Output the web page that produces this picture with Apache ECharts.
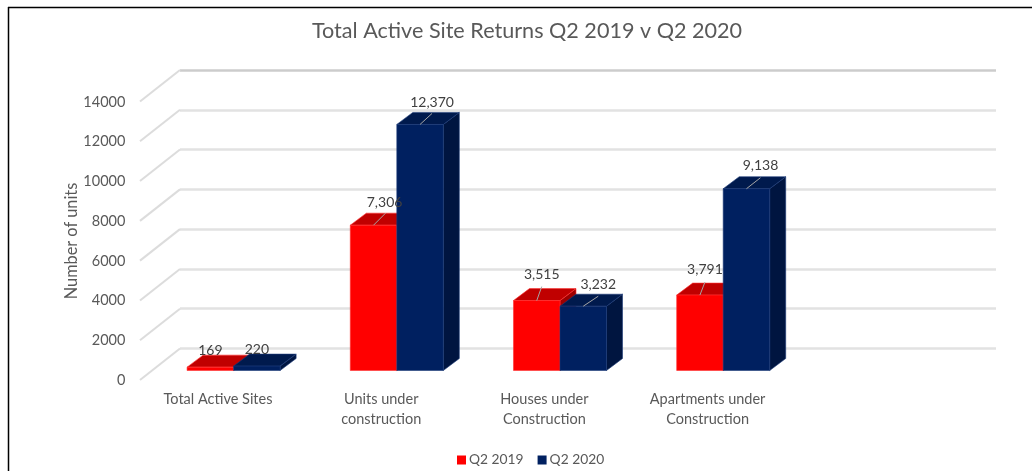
<!DOCTYPE html>
<html>
<head>
<meta charset="utf-8">
<title>Total Active Site Returns</title>
<script src="https://cdn.jsdelivr.net/npm/echarts@6/dist/echarts.min.js"></script>
<style>
    html, body { margin: 0; padding: 0; background: #fff; }
    #container { width: 1032px; height: 471px; }
</style>
</head>
<body>
<div id="container"></div>
<script>
    var categories = ['Total Active Sites', 'Units under\nconstruction', 'Houses under\nConstruction', 'Apartments under\nConstruction', ''];
    var q2_2019 = [169, 7306, 3515, 3791];
    var q2_2020 = [220, 12370, 3232, 9138];
    var wallTicks = [0, 2000, 4000, 6000, 8000, 10000, 12000, 14000];

    // where each data label sits relative to the top centre of its bar: [dx, dy]
    var labelShift2019 = [[0, -17], [11, -23], [5, -26], [5, -26]];
    var labelShift2020 = [[0, -17], [12, -22], [15, -22], [14, -23]];
    var leaderFrom2019 = [null, [12, -12], [5, -14], [5, -13]];
    var leaderFrom2020 = [null, [12, -11], [15, -10], [14, -11]];

    var font = 'Lato, "Open Sans", sans-serif';
    var barFrontX = -28, barFrontY = 22;     // bar front plane relative to back wall
    var depthX = 16, depthY = -12;           // bar depth
    var wallX = -40, wallY = 31.5;           // floor/wall depth
    var barShare = 0.285;

    function fmt(v) {
        return String(v).replace(/\B(?=(\d{3})+$)/g, ',');
    }

    // left edge, right edge and top of the bar front
    function barBox(side, api) {
        var p = api.coord([api.value(0), api.value(1)]);
        var zero = api.coord([api.value(0), 0]);
        var w = api.size([1, 0])[0] * barShare;
        var x0 = p[0] + barFrontX + (side < 0 ? -w : 0);
        return { x0: x0, x1: x0 + w, w: w, yt: p[1] + barFrontY, yb: zero[1] + barFrontY };
    }

    function barRenderer(side, front, top, right, edge) {
        return function (params, api) {
            var b = barBox(side, api);
            return {
                type: 'group',
                children: [
                    { type: 'polygon', shape: { points: [[b.x1, b.yt], [b.x1 + depthX, b.yt + depthY], [b.x1 + depthX, b.yb + depthY], [b.x1, b.yb]] }, style: { fill: right, stroke: edge, lineWidth: 0.6 } },
                    { type: 'polygon', shape: { points: [[b.x0, b.yt], [b.x0 + depthX, b.yt + depthY], [b.x1 + depthX, b.yt + depthY], [b.x1, b.yt]] }, style: { fill: top, stroke: edge, lineWidth: 0.6 } },
                    { type: 'rect', shape: { x: b.x0, y: b.yt, width: b.w, height: b.yb - b.yt }, style: { fill: front, stroke: edge, lineWidth: 0.6 } }
                ]
            };
        };
    }

    function labelRenderer(side, shifts, leaders) {
        return function (params, api) {
            var b = barBox(side, api);
            var cx = (b.x0 + b.x1) / 2;
            var s = shifts[params.dataIndex], l = leaders[params.dataIndex];
            var children = [];
            if (l) {
                children.push({ type: 'line', shape: { x1: cx, y1: b.yt, x2: cx + l[0], y2: b.yt + l[1] }, style: { stroke: '#a6a6a6', lineWidth: 1 } });
            }
            children.push({
                type: 'text', x: cx + s[0], y: b.yt + s[1],
                style: { text: fmt(api.value(1)), fill: '#404040', font: '14px ' + font, align: 'center', verticalAlign: 'middle' }
            });
            return { type: 'group', children: children };
        };
    }

    function wallRenderer(params, api) {
        var p = api.coord([0, api.value(0)]);
        var x = 180;
        return {
            type: 'line',
            shape: { x1: x, y1: p[1], x2: x + wallX, y2: p[1] + wallY },
            style: { stroke: '#dcdcdc', lineWidth: 2 }
        };
    }

    function pairs(values) {
        return values.map(function (v, i) { return [i, v]; });
    }

    var myChart = echarts.init(document.getElementById('container'));
    var option = {
        animation: false,
        backgroundColor: '#fff',
        title: {
            text: 'Total Active Site Returns Q2 2019 v Q2 2020',
            left: 522, top: 15, textAlign: 'center',
            textStyle: { color: '#595959', fontFamily: font, fontWeight: 'normal', fontSize: 21.6 }
        },
        legend: {
            data: ['Q2 2019', 'Q2 2020'],
            left: 452, top: 448,
            itemWidth: 9, itemHeight: 9, itemGap: 14,
            icon: 'rect',
            textStyle: { color: '#595959', fontFamily: font, fontSize: 13.8, padding: [0, 0, 0, -2] }
        },
        // back wall and the front plane used for the axis labels
        grid: [
            { left: 180, width: 816, top: 70, height: 278.5 },
            { left: 136.4, width: 816, top: 102, height: 278 }
        ],
        xAxis: [
            { type: 'category', gridIndex: 0, data: categories, show: false },
            {
                type: 'category', gridIndex: 1, data: categories,
                axisLine: { show: false }, axisTick: { show: false },
                axisLabel: { color: '#595959', fontFamily: font, fontSize: 14.5, margin: 9, lineHeight: 20.5, interval: 0 }
            }
        ],
        yAxis: [
            {
                type: 'value', gridIndex: 0, min: 0, max: 14000, interval: 2000,
                axisLine: { show: false }, axisTick: { show: false }, axisLabel: { show: false },
                splitLine: {
                    lineStyle: {
                        color: ['#e2e2e2', '#e2e2e2', '#e2e2e2', '#e2e2e2', '#e2e2e2', '#e2e2e2', '#e2e2e2', '#cccccc'],
                        width: 2.5
                    }
                }
            },
            {
                type: 'value', gridIndex: 1, min: 0, max: 14000, interval: 2000,
                name: 'Number of units', nameLocation: 'middle', nameGap: 57, nameMoveOverlap: false,
                nameTextStyle: { color: '#595959', fontFamily: font, fontSize: 16.3 },
                axisLine: { show: false }, axisTick: { show: false },
                axisLabel: {
                    color: '#595959', fontFamily: font, fontSize: 14.5, margin: 11,
                    formatter: function (v) { return String(v); }
                },
                splitLine: { show: false }
            }
        ],
        graphic: [
            { type: 'line', shape: { x1: 8, y1: 7.5, x2: 1032, y2: 7.5 }, style: { stroke: '#000', lineWidth: 1.5 } },
            { type: 'line', shape: { x1: 8.5, y1: 7, x2: 8.5, y2: 471 }, style: { stroke: '#000', lineWidth: 1.5 } }
        ],
        series: [
            {
                name: 'wall', type: 'custom', xAxisIndex: 0, yAxisIndex: 0, silent: true,
                data: wallTicks.map(function (v) { return [v]; }),
                encode: { y: 0 },
                renderItem: wallRenderer
            },
            {
                name: 'Q2 2019', type: 'custom', xAxisIndex: 0, yAxisIndex: 0,
                itemStyle: { color: '#ff0000' },
                encode: { x: 0, y: 1 },
                data: pairs(q2_2019),
                renderItem: barRenderer(-1, '#ff0000', '#c00000', '#9c0000', '#ff3030')
            },
            {
                name: 'Q2 2020', type: 'custom', xAxisIndex: 0, yAxisIndex: 0,
                itemStyle: { color: '#002060' },
                encode: { x: 0, y: 1 },
                data: pairs(q2_2020),
                renderItem: barRenderer(1, '#002060', '#001a4d', '#001540', '#1c3a78')
            },
            {
                name: 'labels 2019', type: 'custom', xAxisIndex: 0, yAxisIndex: 0, silent: true, z: 5,
                encode: { x: 0, y: 1 },
                data: pairs(q2_2019),
                renderItem: labelRenderer(-1, labelShift2019, leaderFrom2019)
            },
            {
                name: 'labels 2020', type: 'custom', xAxisIndex: 0, yAxisIndex: 0, silent: true, z: 5,
                encode: { x: 0, y: 1 },
                data: pairs(q2_2020),
                renderItem: labelRenderer(1, labelShift2020, leaderFrom2020)
            }
        ]
    };
    myChart.setOption(option);
</script>
</body>
</html>
